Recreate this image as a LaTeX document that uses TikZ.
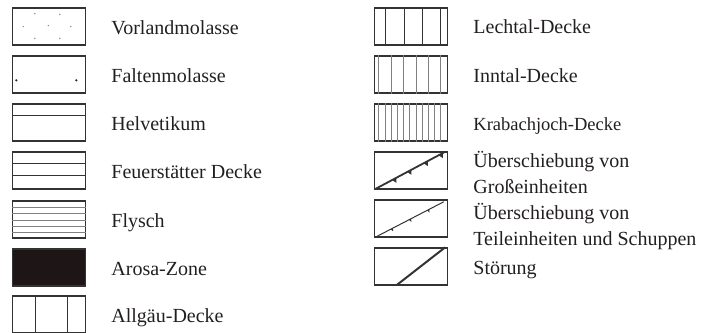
\documentclass[tikz,border=0pt]{standalone}
\usepackage{fontspec}
\setmainfont{Liberation Serif}
\usetikzlibrary{positioning,decorations.markings}
\definecolor{inkline}{HTML}{333333}
\definecolor{inktext}{HTML}{231F20}
\definecolor{arosafill}{HTML}{1E1616}
\newcommand{\bigbarb}{\fill[inkline] (-2.4pt,0pt) -- (2.4pt,0pt) -- (0pt,-4.5pt) -- cycle;}
\newcommand{\smallbarb}{\fill[inkline] (-1.2pt,0pt) -- (1.2pt,0pt) -- (0pt,-3pt) -- cycle;}
\tikzset{
    legbox/.style={draw=inkline, line width=1.4pt, minimum width=73pt, minimum height=37pt, inner sep=0pt},
    legtext/.style={inner sep=0pt, text=inktext, font=\fontsize{20}{26}\selectfont, align=left},
    hatch/.style={inkline, line width=0.9pt},
    thinhatch/.style={black!50, line width=0.8pt},
    grossthrust/.style={inkline, line width=1.8pt, postaction={decorate}, decoration={markings,
        mark=at position 0.27 with {\bigbarb}, mark=at position 0.49 with {\bigbarb},
        mark=at position 0.73 with {\bigbarb}, mark=at position 0.95 with {\bigbarb}}},
    teilthrust/.style={inkline, line width=1pt, postaction={decorate}, decoration={markings,
        mark=at position 0.23 with {\smallbarb}, mark=at position 0.50 with {\smallbarb},
        mark=at position 0.77 with {\smallbarb}}},
    fault/.style={inkline, line width=2pt}
}
\begin{document}
\begin{tikzpicture}[x=1pt,y=-1pt]
    \useasboundingbox (0,0) rectangle (703,332);
    % linke Spalte
    \node[legbox] (vorland) at (49,26.5) {};
    \node[legbox] (falten) at (49,74.5) {};
    \node[legbox] (helv) at (49,122.5) {};
    \node[legbox] (feuer) at (49,170.5) {};
    \node[legbox] (flysch) at (49,219.5) {};
    \node[legbox, fill=arosafill] (arosa) at (49,267.5) {};
    \node[legbox] (allgaeu) at (49,314.5) {};
    \foreach \dx/\dy in {23/6.3, 48/7, 11.5/19.3, 36.5/18.3, 59/19.3, 23/31, 48/31}
        \fill[black!45] ([shift={(\dx pt,-\dy pt)}]vorland.north west) circle (0.8pt);
    \fill[inktext] ([shift={(4.5pt,-25pt)}]falten.north west) circle (1.2pt);
    \fill[inktext] ([shift={(64.5pt,-25pt)}]falten.north west) circle (1.2pt);
    \draw[hatch] ([yshift=-12.5pt]helv.north west) -- ([yshift=-12.5pt]helv.north east);
    \draw[hatch] ([yshift=-12pt]feuer.north west) -- ([yshift=-12pt]feuer.north east);
    \draw[hatch] ([yshift=-24pt]feuer.north west) -- ([yshift=-24pt]feuer.north east);
    \foreach \k in {7,13.3,19.6,25.9,32.2}
        \draw[thinhatch] ([yshift=-\k pt]flysch.north west) -- ([yshift=-\k pt]flysch.north east);
    \draw[hatch] ([xshift=23.5pt]allgaeu.south west) -- ([xshift=23.5pt]allgaeu.north west);
    \draw[hatch] ([xshift=55.8pt]allgaeu.south west) -- ([xshift=55.8pt]allgaeu.north west);
    \node[legtext, base right=25pt of vorland, yshift=-8pt] (vorlandtext) {Vorlandmolasse};
    \node[legtext, base right=25pt of falten, yshift=-7.5pt] (faltentext) {Faltenmolasse};
    \node[legtext, base right=25pt of helv, yshift=-7.5pt] (helvtext) {Helvetikum};
    \node[legtext, base right=25pt of feuer, yshift=-7.5pt] (feuertext) {Feuerstätter Decke};
    \node[legtext, base right=25pt of flysch, yshift=-7.5pt] (flyschtext) {Flysch};
    \node[legtext, base right=25pt of arosa, yshift=-7.5pt] (arosatext) {Arosa-Zone};
    \node[legtext, base right=25pt of allgaeu, yshift=-7.5pt] (allgaeutext) {Allgäu-Decke};
    % rechte Spalte
    \node[legbox] (lechtal) at (411,26.5) {};
    \node[legbox] (inntal) at (411,74.5) {};
    \node[legbox] (krabach) at (411,122.5) {};
    \node[legbox] (gross) at (411,170.5) {};
    \node[legbox] (teil) at (411,218.5) {};
    \node[legbox] (stoer) at (411,266.5) {};
    \foreach \k in {12,31,48.7,67}
        \draw[hatch] ([xshift=\k pt]lechtal.south west) -- ([xshift=\k pt]lechtal.north west);
    \foreach \k in {5,17.4,29.8,42.2,54.6,67}
        \draw[thinhatch] ([xshift=\k pt]inntal.south west) -- ([xshift=\k pt]inntal.north west);
    \foreach \i in {0,...,10}
        \draw[thinhatch] ([xshift={(5+6.2*\i)*1pt}]krabach.south west) -- ([xshift={(5+6.2*\i)*1pt}]krabach.north west);
    \draw[grossthrust] ([shift={(2pt,1pt)}]gross.south west) -- ([shift={(-4pt,-1pt)}]gross.north east);
    \draw[teilthrust] ([shift={(2.5pt,1pt)}]teil.south west) -- ([shift={(-4.5pt,-2.5pt)}]teil.north east);
    \draw[fault] ([shift={(23pt,0.7pt)}]stoer.south west) -- ([shift={(-3pt,0pt)}]stoer.north east);
    \node[legtext, base right=25pt of lechtal, yshift=-7pt] (lechtaltext) {Lechtal-Decke};
    \node[legtext, base right=25pt of inntal, yshift=-7.5pt] (inntaltext) {Inntal-Decke};
    \node[legtext, base right=25pt of krabach, yshift=-8pt, font=\fontsize{18.5}{22}\selectfont] (krabachtext) {Krabachjoch-Decke};
    \node[legtext, base right=25pt of gross, yshift=-22.5pt] (grosstext) {Überschiebung von\\Großeinheiten};
    \node[legtext, base right=25pt of teil, yshift=-26.5pt] (teiltext) {Überschiebung von\\Teileinheiten und Schuppen};
    \node[legtext, base right=25pt of stoer, yshift=-7.5pt] (stoertext) {Störung};
\end{tikzpicture}
\end{document}
